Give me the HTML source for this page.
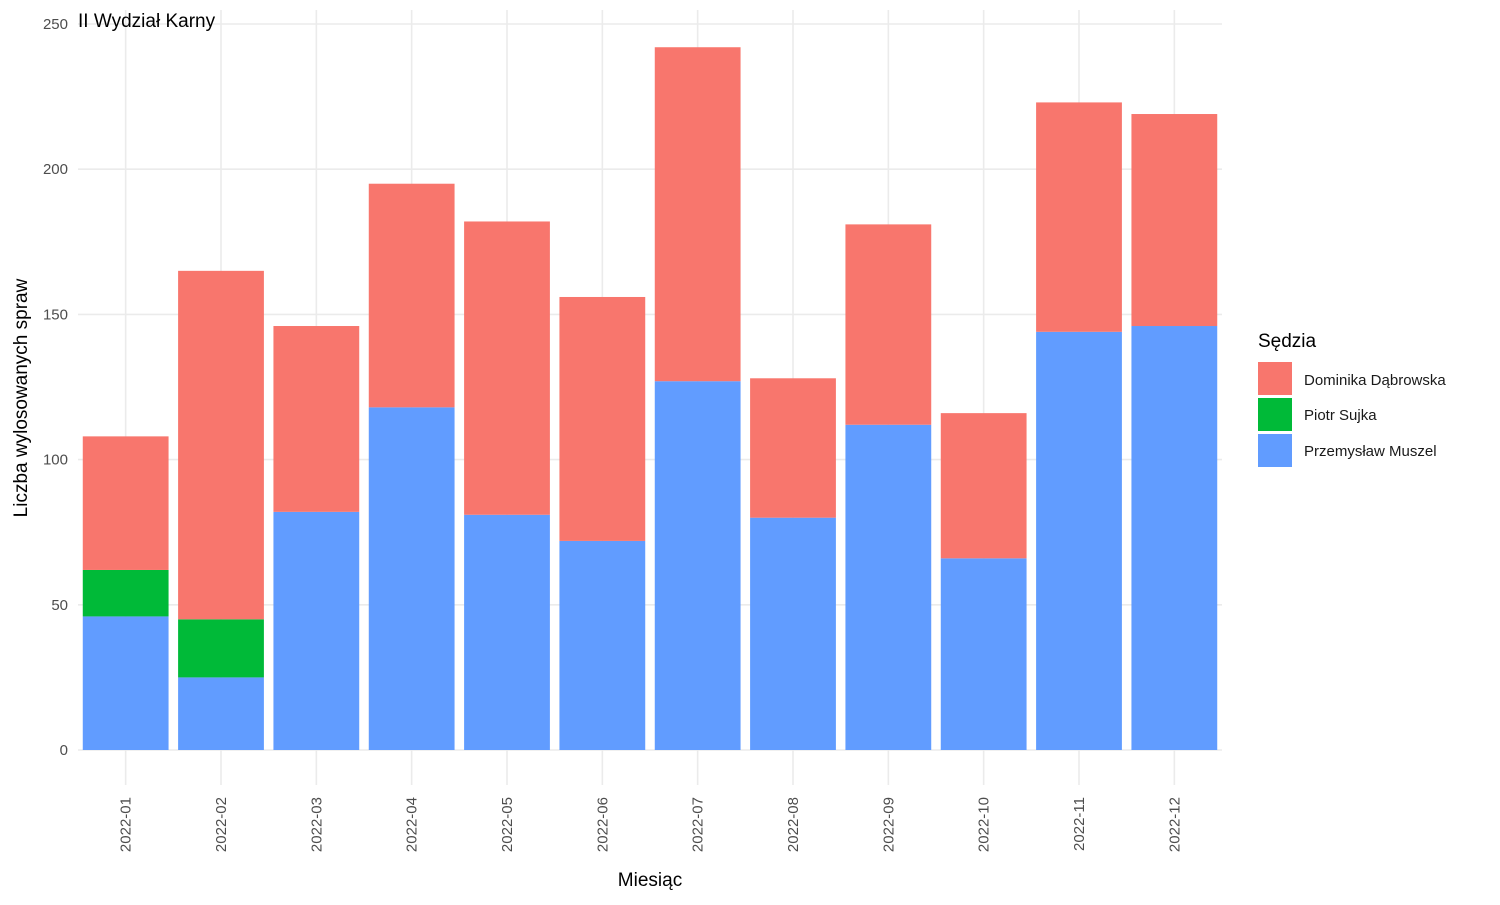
<!DOCTYPE html>
<html><head><meta charset="utf-8"><style>
body{margin:0;background:#fff;font-family:"Liberation Sans",sans-serif;}
</style></head><body>
<svg id="chart" width="1500" height="900" xmlns="http://www.w3.org/2000/svg" font-family="Liberation Sans, sans-serif">
<g id="grid"></g>
<g id="bars"></g>
<g id="axes"></g>
<text x="78" y="27" font-size="19" fill="#000">II Wydział Karny</text>
<text x="650" y="886" font-size="19" text-anchor="middle" fill="#000">Miesiąc</text>
<text transform="translate(27,398) rotate(-90)" font-size="19" text-anchor="middle" fill="#000">Liczba wylosowanych spraw</text>
<g>
<text x="1258" y="347" font-size="19" fill="#000">Sędzia</text>
<rect x="1258" y="362" width="34" height="33" fill="#F8766D"/>
<text x="1304" y="385" font-size="15" fill="#1a1a1a">Dominika Dąbrowska</text>
<rect x="1258" y="398" width="34" height="33" fill="#00BA38"/>
<text x="1304" y="420" font-size="15" fill="#1a1a1a">Piotr Sujka</text>
<rect x="1258" y="434" width="34" height="33" fill="#619CFF"/>
<text x="1304" y="456" font-size="15" fill="#1a1a1a">Przemysław Muszel</text>
</g>
</svg>
<script>
const months=["2022-01","2022-02","2022-03","2022-04","2022-05","2022-06","2022-07","2022-08","2022-09","2022-10","2022-11","2022-12"];
const muszel=[46,25,82,118,81,72,127,80,112,66,144,146];
const sujka=[16,20,0,0,0,0,0,0,0,0,0,0];
const dabrowska=[46,120,64,77,101,84,115,48,69,50,79,73];
const yTicks=[0,50,100,150,200,250];
const NS="http://www.w3.org/2000/svg";
const x0=78,x1=1222,yBase=750,yTop=24,yMax=250;
const step=(x1-x0)/months.length,bw=step*0.9;
const yS=v=>yBase-(v/yMax)*(yBase-yTop);
const xC=i=>x0+step*(i+0.5);
function mk(t,a,p){const e=document.createElementNS(NS,t);for(const k in a)e.setAttribute(k,a[k]);p.appendChild(e);return e;}
const grid=document.getElementById('grid'),bars=document.getElementById('bars'),axes=document.getElementById('axes');
yTicks.forEach(v=>{
 const l=mk('line',{x1:x0,x2:x1,y1:yS(v),y2:yS(v),stroke:'#ebebeb','stroke-width':1.6},grid);
 
 
 const t=mk('text',{x:68,y:yS(v)+5,'font-size':15,'text-anchor':'end',fill:'#4d4d4d'},axes);
 t.textContent=v;
 
 
});
months.forEach((m,i)=>{
 const l=mk('line',{x1:xC(i),x2:xC(i),y1:10,y2:785,stroke:'#ebebeb','stroke-width':1.6},grid);
 
 
 const t=mk('text',{transform:`translate(${xC(i)+5},797) rotate(-90)`,'font-size':15,'text-anchor':'end',fill:'#4d4d4d'},axes);
 t.textContent=m;
 
 
 let base=0;
 [[muszel,'#619CFF','muszel'],[sujka,'#00BA38','sujka'],[dabrowska,'#F8766D','dabrowska']].forEach(([arr,c,n])=>{
  const v=arr[i];if(!v)return;
  const r=mk('rect',{x:xC(i)-bw/2,y:yS(base+v),width:bw,height:yS(base)-yS(base+v),fill:c},bars);
  
  
  base+=v;
 });
});
</script>
</body></html>
